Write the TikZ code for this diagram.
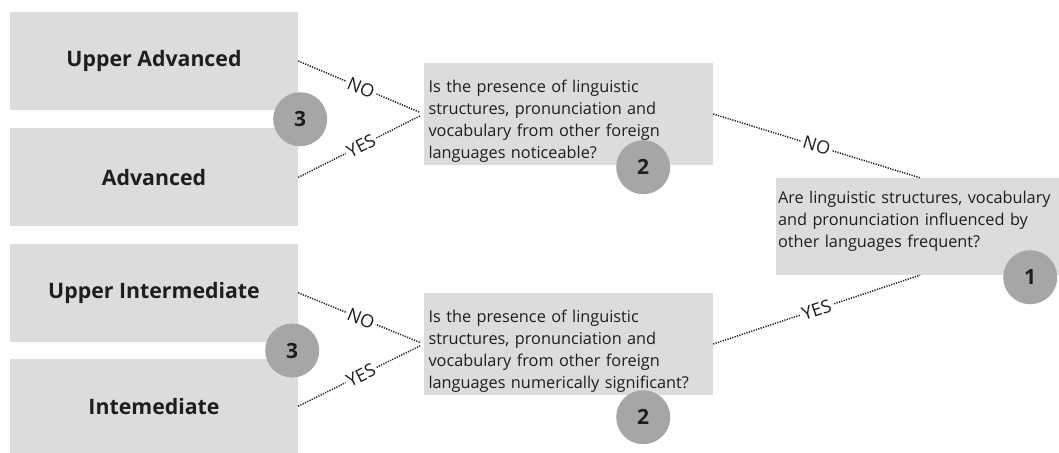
\documentclass[tikz,border=0pt]{standalone}
\usepackage{fontspec}
\setmainfont{Open Sans}
\usetikzlibrary{positioning,calc}
\definecolor{boxgray}{HTML}{DCDCDC}
\definecolor{badgegray}{HTML}{A6A6A6}
\definecolor{inkgray}{HTML}{1E1E1E}
\tikzset{
  lvl/.style   ={fill=boxgray, minimum width=288pt, minimum height=98pt, inner sep=0pt,
                 font=\fontsize{21.3}{25}\selectfont\bfseries, text=inkgray},
  qbox/.style  ={fill=boxgray, text width=280pt, inner xsep=4.5pt, inner ysep=6pt,
                 align=left, font=\fontsize{16.3}{22}\selectfont, text=inkgray},
  badge/.style ={circle, fill=badgegray, minimum size=54pt, inner sep=0pt,
                 font=\fontsize{21}{24}\selectfont\bfseries, text=inkgray},
  link/.style  ={dash pattern=on 1.2pt off 1.3pt, line width=1.5pt, draw=inkgray},
  ans/.style   ={font=\fontsize{18}{20}\selectfont, fill=white, inner sep=2pt,
                 sloped, pos=0.5, text=inkgray},
}

\begin{document}
\begin{tikzpicture}[x=1pt, y=-1pt]
\useasboundingbox (0,0) rectangle (1059,452);

% ---- levels ----------------------------------------------------------
\node[lvl] (ua) at (154,61) {Upper Advanced};
\node[lvl, below=18pt of ua] (adv) {Advanced};
\node[lvl, below=17pt of adv] (ui) {Upper Intermediate};
\node[lvl, below=17pt of ui, minimum height=94pt] (int) {Intemediate};

% ---- questions -------------------------------------------------------
\node[qbox] (qa) at (568.5,114)
      {\parbox[c][90pt][t]{280pt}{\vspace*{11pt}Is the presence of linguistic\\structures, pronunciation and\\vocabulary from other foreign\\languages noticeable?}};
\node[qbox] (qb) at (568.5,344)
      {\parbox[c][90pt][t]{280pt}{\vspace*{11pt}Is the presence of linguistic\\structures, pronunciation and\\vocabulary from other foreign\\languages numerically significant?}};
\node[qbox, text width=284pt, inner xsep=2pt] (q1) at (920,226.5)
      {\parbox[c][85pt][t]{284pt}{\vspace*{7pt}Are linguistic structures, vocabulary\\and pronunciation influenced by\\other languages frequent?}};

% ---- answers ---------------------------------------------------------
\draw[link, shorten >=4pt] (ua.east) -- node[ans] {NO} (qa.west);
\draw[link, shorten >=4pt] (adv.east) -- node[ans] {YES} (qa.west);
\draw[link, shorten >=4pt] (ui.east) -- node[ans] {NO} (qb.west);
\draw[link, shorten >=4pt] (int.east) -- node[ans] {YES} (qb.west);
\draw[link] (qa.east) -- node[ans] {NO} (q1.north);
\draw[link] (qb.east) -- node[ans] {YES} (q1.south);

% ---- step badges -----------------------------------------------------
\node[badge] (s3a) at ($(ua.south east)!0.5!(adv.north east)+(2,0)$) {3};
\node[badge] (s3b) at ($(ui.south east)!0.5!(int.north east)+(-6,0)$) {3};
\node[badge] (s2a) at ($(qa.south east)+(-70,2)$) {2};
\node[badge] (s2b) at ($(qb.south east)+(-70,22)$) {2};
\node[badge] (s1) at ($(q1.south east)+(-34,2)$) {1};

\end{tikzpicture}
\end{document}
